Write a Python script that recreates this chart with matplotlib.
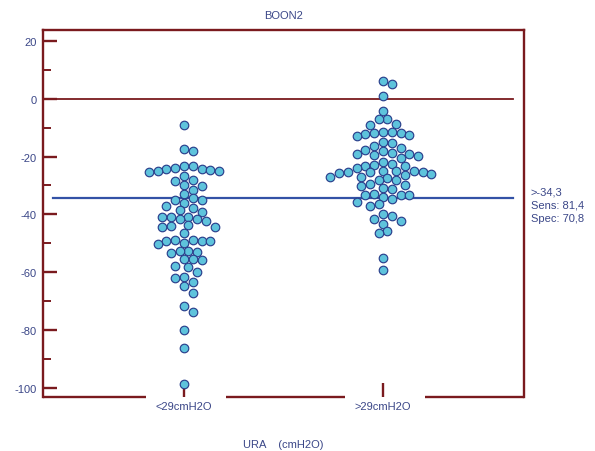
import numpy as np
import matplotlib
matplotlib.use("Agg")
from matplotlib import pyplot as plt

plt.rcParams['font.family'] = ['Liberation Sans', 'DejaVu Sans']
plt.rcParams['axes.unicode_minus'] = False

groups = ['<29cmH2O', '>29cmH2O']
low_ura = [-9.0, -17.5, -18.1, -23.4, -23.4, -24.0, -24.3, -24.4, -24.8, -24.9, -25.1, -25.3,
           -26.6, -28.2, -28.6, -29.9, -30.2, -31.4, -32.9, -34.5, -35.0, -35.1, -36.1, -37.1,
           -37.8, -38.5, -39.2, -40.8, -40.8, -41.0, -41.6, -41.6, -42.3, -43.7, -43.9, -44.2,
           -44.4, -46.6, -48.7, -48.8, -49.3, -49.3, -49.3, -49.8, -50.3, -52.6, -52.8, -53.0,
           -53.5, -55.6, -55.6, -55.8, -57.9, -58.3, -59.9, -61.7, -62.1, -63.5, -64.8, -67.1,
           -71.8, -73.9, -79.9, -86.2, -98.6]
high_ura = [6.1, 5.1, 0.8, -4.2, -6.9, -7.0, -8.7, -9.0,
            -11.6, -11.6, -11.9, -12.0, -12.1, -12.5, -12.8, -14.9, -15.3,
            -16.4, -17.2, -17.6, -18.0, -18.8, -19.2, -19.2, -19.5, -19.8, -20.6,
            -21.8, -22.6, -22.9, -23.1, -23.4, -24.1,
            -24.9, -24.9, -25.1, -25.3, -25.5, -25.5, -25.7, -26.0, -26.4,
            -27.1, -27.2, -27.4, -28.0, -28.2, -29.6, -30.0, -30.1, -30.8, -31.2,
            -33.1, -33.3, -33.3, -33.3, -34.0, -34.7, -35.6, -36.5, -37.0,
            -39.9, -40.5, -41.7, -42.2, -43.4, -45.8, -46.6, -55.2, -59.3]
cutoff = -34.3
cutoff_text = ['>-34,3', 'Sens: 81,4', 'Spec: 70,8']
y_ticks = [20, 0, -20, -40, -60, -80, -100]

frame = '#7a1a1e'
txt = '#3b4788'
dot_face = '#5ec3dc'
dot_edge = '#2a3f8c'
blue_line = '#3352a6'


def swarm(ax, xc, vals, diam):
    # greedy beeswarm in pixel space on a half-dot grid
    vals = np.asarray(vals, dtype=float)
    pts = ax.transData.transform(np.column_stack([np.full(len(vals), xc), vals]))
    ypx = pts[:, 1]
    x0 = pts[0, 0]
    order = np.argsort(-vals, kind='stable')
    steps = [0] + [s * k for k in range(1, 40) for s in (1, -1)]
    placed = []
    offs = np.zeros(len(vals))
    for i in order:
        for k in steps:
            ox = k * diam / 2
            if all((ox - px) ** 2 + (ypx[i] - py) ** 2 >= (diam * 0.93) ** 2 for px, py in placed):
                break
        placed.append((ox, ypx[i]))
        offs[i] = ox
    return ax.transData.inverted().transform(np.column_stack([x0 + offs, ypx]))[:, 0]


fig = plt.figure(figsize=(5.95, 4.52), dpi=100)
ax = fig.add_axes([43 / 595, 1 - 398 / 452, 481 / 595, 367 / 452])
ax.set_xlim(0.291, 2.709)
ax.set_ylim(-103.2, 23.8)

ax.axhline(0, xmin=0, xmax=0.977, color=frame, lw=1.3, zorder=2)
ax.axhline(cutoff, xmin=0.021, xmax=0.977, color=blue_line, lw=1.6, zorder=2)

for pos, vals in zip([1, 2], [low_ura, high_ura]):
    xs = swarm(ax, pos, vals, 8.8)
    ax.scatter(xs, vals, s=38, facecolor=dot_face, edgecolor=dot_edge, linewidths=0.85, zorder=3)

for side in ['left', 'top', 'right']:
    ax.spines[side].set_color(frame)
    ax.spines[side].set_linewidth(1.7)
ax.spines['bottom'].set_visible(False)
# broken bottom axis around the category labels
xl = ax.get_xlim()
for a, b in [(xl[0], 1 - 0.19), (1 + 0.21, 2 - 0.19), (2 + 0.21, xl[1])]:
    ax.plot([a, b], [0, 0], color=frame, lw=1.7, transform=ax.get_xaxis_transform(),
            clip_on=False, solid_capstyle='butt')

ax.set_yticks(y_ticks)
ax.set_yticks(np.arange(-90, 11, 20), minor=True)
ax.tick_params(axis='y', which='major', direction='in', length=10, width=1.7, color=frame,
               labelcolor=txt, labelsize=8, pad=4.5)
ax.tick_params(axis='y', which='minor', direction='in', length=6, width=1.4, color=frame)
ax.set_xticks([1, 2], groups)
ax.tick_params(axis='x', direction='in', length=10, width=1.7, color=frame,
               labelcolor=txt, labelsize=8, pad=3)

ax.set_title('BOON2', fontsize=8, color=txt, pad=8.5)
ax.set_xlabel('URA    (cmH2O)', fontsize=8, color=txt, labelpad=20)

for j, t in enumerate(cutoff_text):
    ax.annotate(t, xy=(1, cutoff), xycoords=('axes fraction', 'data'),
                xytext=(5, 4.3 - j * 9.4), textcoords='offset points',
                fontsize=8, color=txt, va='center', ha='left', annotation_clip=False)

fig.savefig('out.png', dpi=100)
